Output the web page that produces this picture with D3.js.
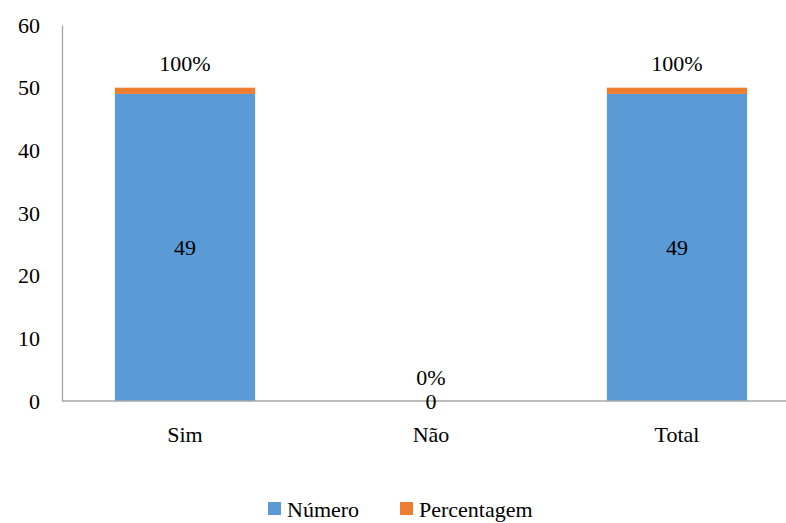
<!DOCTYPE html>
<html>
<head>
<meta charset="utf-8">
<script src="https://cdn.jsdelivr.net/npm/d3@7"></script>
<style>
  html, body { margin: 0; padding: 0; background: #fff; }
</style>
</head>
<body>
<svg id="chart" width="786" height="523"></svg>
<script>
// Respostas: número de pessoas e percentagem por categoria
const categories = ["Sim", "Não", "Total"];
const numero = [49, 0, 49];
const percentagem = [1, 0, 1];            // 100% desenhado como 1 unidade empilhada
const percentLabels = ["100%", "0%", "100%"];
const yTicks = [0, 10, 20, 30, 40, 50, 60];
const seriesNames = ["Número", "Percentagem"];
const colors = ["#5B9BD5", "#ED7D31"];

const FONT = "'Times New Roman', 'Liberation Serif', Tinos, 'DejaVu Serif', serif";
const fs = 22;

const svg = d3.select("#chart").attr("font-family", FONT).style("font-family", FONT);
const margin = { left: 62, top: 25, bottom: 122 };
const plotW = 738;                        // área de plotagem (ultrapassa a margem direita)
const plotH = 523 - margin.top - margin.bottom;

const x = d3.scaleBand().domain(categories).range([margin.left, margin.left + plotW])
  .paddingInner(0.43).paddingOuter(0.215);
const y = d3.scaleLinear().domain([0, 60]).range([margin.top + plotH, margin.top]);

function txt(sel) {
  return sel.style("font-family", FONT).style("font-size", fs + "px").attr("fill", "#000");
}

// Eixo Y
const yAxis = svg.append("g").attr("transform", `translate(${margin.left},0)`)
  .call(d3.axisLeft(y).tickValues(yTicks).tickSize(0).tickPadding(22));
yAxis.attr("font-family", null).attr("font-size", null);
yAxis.select(".domain").attr("stroke", "#a6a6a6").attr("stroke-width", 1.3);
txt(yAxis.selectAll("text"));

// Barras empilhadas
const rows = categories.map((c, i) => ({ cat: c, n: numero[i], p: percentagem[i] }));
const g = svg.append("g");
g.selectAll("rect.num").data(rows).enter().append("rect")
  .attr("x", d => x(d.cat)).attr("width", x.bandwidth())
  .attr("y", d => y(d.n)).attr("height", d => y(0) - y(d.n))
  .attr("fill", colors[0]);
g.selectAll("rect.pct").data(rows).enter().append("rect")
  .attr("x", d => x(d.cat)).attr("width", x.bandwidth())
  .attr("y", d => y(d.n + d.p)).attr("height", d => y(d.n) - y(d.n + d.p))
  .attr("fill", colors[1]);

// Eixo X (linha de base)
svg.append("line")
  .attr("x1", margin.left).attr("x2", 786)
  .attr("y1", y(0)).attr("y2", y(0))
  .attr("stroke", "#a6a6a6").attr("stroke-width", 1.3);

// Rótulos das categorias
txt(svg.selectAll("text.cat").data(categories).enter().append("text")
  .attr("x", d => x(d) + x.bandwidth() / 2).attr("y", y(0) + 41)
  .attr("text-anchor", "middle").text(d => d));

// Rótulos de valor: número (centro da barra)
txt(svg.selectAll("text.nlab").data(rows).enter().append("text")
  .attr("x", d => x(d.cat) + x.bandwidth() / 2)
  .attr("y", d => (y(0) + y(d.n)) / 2)
  .attr("dy", "0.35em")
  .attr("text-anchor", "middle").text(d => d.n));

// Rótulos de percentagem (acima da barra)
txt(svg.selectAll("text.plab").data(rows).enter().append("text")
  .attr("x", d => x(d.cat) + x.bandwidth() / 2)
  .attr("y", d => y(d.n + d.p) - 24)
  .attr("dy", "0.35em")
  .attr("text-anchor", "middle")
  .text((d, i) => percentLabels[i]));

// Legenda
const legendX = [268, 400];
const lg = svg.append("g");
seriesNames.forEach((s, i) => {
  lg.append("rect").attr("x", legendX[i]).attr("y", 502).attr("width", 13).attr("height", 13)
    .attr("fill", colors[i]);
  txt(lg.append("text").attr("x", legendX[i] + 19).attr("y", 509).attr("dy", "0.35em").text(s));
});
</script>
</body>
</html>
